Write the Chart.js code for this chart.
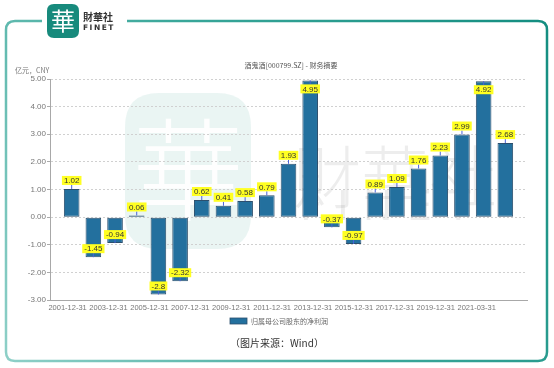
<!DOCTYPE html>
<html>
<head>
<meta charset="utf-8">
<script src="https://cdn.jsdelivr.net/npm/chart.js@4/dist/chart.umd.min.js"></script>
<style>
    html, body { margin: 0; padding: 0; background: #fff; }
    #wrap { position: relative; width: 554px; height: 368px; overflow: hidden; }
    #chart { position: absolute; left: 0; top: 0; }
</style>
</head>
<body>
<div id="wrap">
    <canvas id="chart" width="554" height="368"></canvas>
</div>
<script>
// Data (亿元, CNY) - 归属母公司股东的净利润
const periods = [
    '2001-12-31', '2002-12-31', '2003-12-31', '2004-12-31', '2005-12-31', '2006-12-31',
    '2007-12-31', '2008-12-31', '2009-12-31', '2010-12-31', '2011-12-31', '2012-12-31',
    '2013-12-31', '2014-12-31', '2015-12-31', '2016-12-31', '2017-12-31', '2018-12-31',
    '2019-12-31', '2020-12-31', '2021-03-31'
];
const netProfit = [
    1.02, -1.45, -0.94, 0.06, -2.8, -2.32, 0.62, 0.41, 0.58, 0.79, 1.93,
    4.95, -0.37, -0.97, 0.89, 1.09, 1.76, 2.23, 2.99, 4.92, 2.68
];
const xTickLabels = [
    '2001-12-31', '2003-12-31', '2005-12-31', '2007-12-31', '2009-12-31', '2011-12-31',
    '2013-12-31', '2015-12-31', '2017-12-31', '2019-12-31', '2021-03-31'
];
const yMin = -3, yMax = 5, yStep = 1;

const seriesName = '归属母公司股东的净利润';
const chartTitle = '酒鬼酒[000799.SZ] - 财务摘要';
const unitLabel = '亿元，CNY';
const sourceText = '（图片来源：Wind）';

const FONT = "'Noto Sans CJK SC', 'DejaVu Sans', sans-serif";
const NUM_FONT = "'Liberation Sans', Arial, sans-serif";
const BAR_COLOR = '#23709e';
const BAR_BORDER = '#2c4f6d';

// x tick labels are packed left to right like the original (not one per bar)
const firstTickPos = -0.19;
const tickStep = 1.887;

function roundRect(ctx, x, y, w, h, r) {
    ctx.beginPath();
    ctx.moveTo(x + r, y);
    ctx.lineTo(x + w - r, y);
    ctx.quadraticCurveTo(x + w, y, x + w, y + r);
    ctx.lineTo(x + w, y + h - r);
    ctx.quadraticCurveTo(x + w, y + h, x + w - r, y + h);
    ctx.lineTo(x + r, y + h);
    ctx.quadraticCurveTo(x, y + h, x, y + h - r);
    ctx.lineTo(x, y + r);
    ctx.quadraticCurveTo(x, y, x + r, y);
    ctx.closePath();
}

// frame, logo, watermark, title, legend, caption
const decorPlugin = {
    id: 'decor',
    beforeDraw(chart) {
        const ctx = chart.ctx;
        ctx.save();

        // watermark logo
        roundRect(ctx, 125, 93, 126, 156, 34);
        ctx.fillStyle = 'rgba(130, 195, 185, 0.17)';
        ctx.fill();
        ctx.fillStyle = 'rgba(255,255,255,0.95)';
        ctx.font = "300 112px 'Noto Sans CJK SC', serif";
        ctx.textAlign = 'center';
        ctx.textBaseline = 'middle';
        ctx.fillText('華', 188, 170);

        // watermark text
        ctx.fillStyle = 'rgba(0,0,0,0.07)';
        ctx.font = "300 68px 'Noto Sans CJK SC', sans-serif";
        ctx.textAlign = 'left';
        ctx.textBaseline = 'alphabetic';
        ctx.fillText('財華社', 293, 203);
        ctx.font = "40px 'DejaVu Sans', sans-serif";
        ctx.letterSpacing = '14px';
        ctx.fillText('FINET', 300, 220);
        ctx.letterSpacing = '0px';

        // frame
        const grad = ctx.createLinearGradient(0, 360, 554, 20);
        grad.addColorStop(0, '#8fd0c8');
        grad.addColorStop(0.5, '#3aa79a');
        grad.addColorStop(1, '#138d80');
        ctx.strokeStyle = grad;
        ctx.lineWidth = 2.5;
        const fx = 6, fy = 21, fw = 541, fh = 340, r = 9;
        ctx.beginPath();
        ctx.moveTo(42, fy);
        ctx.lineTo(fx + r, fy);
        ctx.quadraticCurveTo(fx, fy, fx, fy + r);
        ctx.lineTo(fx, fy + fh - r);
        ctx.quadraticCurveTo(fx, fy + fh, fx + r, fy + fh);
        ctx.lineTo(fx + fw - r, fy + fh);
        ctx.quadraticCurveTo(fx + fw, fy + fh, fx + fw, fy + fh - r);
        ctx.lineTo(fx + fw, fy + r);
        ctx.quadraticCurveTo(fx + fw, fy, fx + fw - r, fy);
        ctx.lineTo(127, fy);
        ctx.stroke();

        // logo
        roundRect(ctx, 47, 4, 32, 34, 7);
        ctx.fillStyle = '#178a7c';
        ctx.fill();
        ctx.fillStyle = '#fff';
        ctx.font = "24px 'Noto Sans CJK SC', serif";
        ctx.textAlign = 'center';
        ctx.textBaseline = 'middle';
        ctx.fillText('華', 63, 21);
        ctx.fillStyle = '#333';
        ctx.font = "bold 10px 'Noto Sans CJK SC', sans-serif";
        ctx.textAlign = 'left';
        ctx.fillText('財華社', 83, 17);
        ctx.font = "bold 7.5px 'DejaVu Sans', sans-serif";
        ctx.letterSpacing = '1.5px';
        ctx.fillText('FINET', 83, 28);
        ctx.letterSpacing = '0px';

        // title and unit
        ctx.fillStyle = '#555';
        ctx.font = '7px ' + FONT;
        ctx.textAlign = 'center';
        ctx.fillText(chartTitle, 291, 65);
        ctx.fillStyle = '#777';
        ctx.textAlign = 'left';
        ctx.fillText(unitLabel, 15, 70);

        // legend
        ctx.fillStyle = BAR_COLOR;
        ctx.strokeStyle = BAR_BORDER;
        ctx.lineWidth = 0.8;
        ctx.fillRect(230, 318, 17, 6);
        ctx.strokeRect(230, 318, 17, 6);
        ctx.fillStyle = '#666';
        ctx.font = '7px ' + FONT;
        ctx.fillText(seriesName, 251, 321);

        // caption
        ctx.fillStyle = '#333';
        ctx.font = '10px ' + FONT;
        ctx.textAlign = 'center';
        ctx.fillText(sourceText, 277, 343);

        ctx.restore();
    }
};

// yellow value labels on the bars
const valueLabelPlugin = {
    id: 'valueLabels',
    afterDatasetsDraw(chart) {
        const ctx = chart.ctx;
        const area = chart.chartArea;
        const meta = chart.getDatasetMeta(0);
        ctx.save();
        ctx.font = '8px ' + NUM_FONT;
        ctx.textAlign = 'center';
        ctx.textBaseline = 'middle';
        meta.data.forEach((bar, i) => {
            const v = netProfit[i];
            const text = String(v);
            const w = ctx.measureText(text).width + 4;
            const h = 9;
            const x = bar.x;
            const end = bar.y;
            let boxTop, lineFrom, lineTo;
            if (v >= 0) {
                boxTop = end - 4 - h;
                if (boxTop < area.top) {
                    boxTop = end + 4;
                    lineFrom = end;
                    lineTo = boxTop;
                } else {
                    lineFrom = boxTop + h;
                    lineTo = end;
                }
            } else {
                boxTop = end - 4 - h;
                lineFrom = boxTop + h;
                lineTo = end;
            }
            ctx.strokeStyle = '#4a63d8';
            ctx.lineWidth = 1;
            ctx.beginPath();
            ctx.moveTo(x, lineFrom);
            ctx.lineTo(x, lineTo);
            ctx.stroke();
            ctx.fillStyle = '#ffff22';
            ctx.fillRect(x - w / 2, boxTop, w, h);
            ctx.fillStyle = '#333';
            ctx.fillText(text, x, boxTop + h / 2 + 0.5);
        });
        ctx.restore();
    }
};

new Chart(document.getElementById('chart'), {
    type: 'bar',
    data: {
        datasets: [{
            label: seriesName,
            data: netProfit.map((v, i) => ({ x: i, y: v })),
            backgroundColor: BAR_COLOR,
            borderColor: BAR_BORDER,
            borderWidth: 1,
            borderSkipped: false,
            barPercentage: 0.72,
            categoryPercentage: 1
        }]
    },
    options: {
        responsive: false,
        animation: false,
        layout: { padding: { top: 79, right: 27, left: 0, bottom: 0 } },
        plugins: {
            legend: { display: false },
            title: { display: false },
            tooltip: { enabled: false }
        },
        scales: {
            x: {
                type: 'linear',
                offset: false,
                min: -1,
                max: periods.length,
                grid: { display: false, drawTicks: false },
                border: { display: true, color: '#a8a8a8', width: 1 },
                afterBuildTicks: (scale) => {
                    scale.ticks = xTickLabels.map((l, i) => ({ value: firstTickPos + i * tickStep }));
                },
                afterFit: (scale) => { scale.height = 68; },
                ticks: {
                    autoSkip: false,
                    maxRotation: 0,
                    padding: 3,
                    color: '#777',
                    font: { family: NUM_FONT, size: 7.5 },
                    callback: (value, index) => xTickLabels[index]
                }
            },
            y: {
                min: yMin,
                max: yMax,
                afterFit: (scale) => { scale.width = 50; },
                ticks: {
                    stepSize: yStep,
                    padding: 1,
                    color: '#777',
                    font: { family: NUM_FONT, size: 8 },
                    callback: (v) => v.toFixed(2)
                },
                grid: {
                    color: '#d0d0d0',
                    lineWidth: 1,
                    tickLength: 3,
                    tickColor: '#aaa',
                    tickBorderDash: [],
                    drawTicks: true
                },
                border: { display: true, color: '#a8a8a8', width: 1, dash: [2, 2] }
            }
        }
    },
    plugins: [decorPlugin, valueLabelPlugin]
});
</script>
</body>
</html>
